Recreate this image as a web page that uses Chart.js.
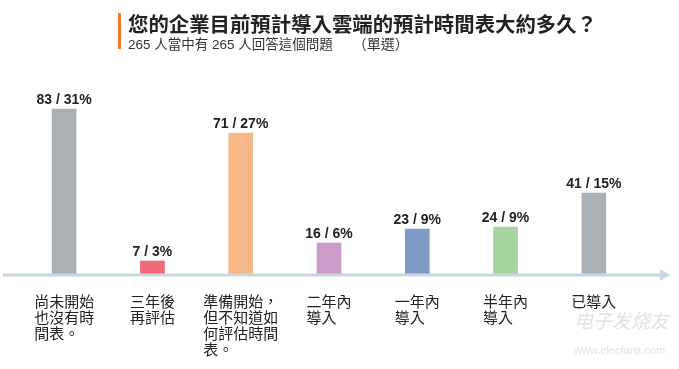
<!DOCTYPE html>
<html>
<head>
<meta charset="utf-8">
<script src="https://cdn.jsdelivr.net/npm/chart.js@4.4.1/dist/chart.umd.min.js"></script>
<style>
    body { margin: 0; background: #fff; }
    #wrap { position: relative; width: 679px; height: 369px; overflow: hidden; }
    #chart { position: absolute; left: 0; top: 0; }
    .accent { position: absolute; left: 118px; top: 13px; width: 3px; height: 36px; background: #f07b2d; }
    .title {
        position: absolute; left: 128px; top: 8px; white-space: nowrap;
        font: bold 20.4px "Liberation Sans", "Noto Sans CJK TC", sans-serif; color: #222;
    }
    .sub {
        position: absolute; left: 128px; top: 33px; white-space: nowrap;
        font: 13.5px "Liberation Sans", "Noto Sans CJK TC", sans-serif; color: #333;
    }
    .sub .single { margin-left: 20px; font-size: 14px; }
    .wm { position: absolute; white-space: nowrap; color: #e2e2e2; font-family: "Noto Sans CJK SC", sans-serif; }
</style>
</head>
<body>
<div id="wrap">
    <canvas id="chart"></canvas>
    <div class="accent"></div>
    <div class="title">您的企業目前預計導入雲端的預計時間表大約多久？</div>
    <div class="sub">265 人當中有 265 人回答這個問題<span class="single">（單選）</span></div>
    <div class="wm" style="left:574px;top:306px;font-size:19px;font-style:italic;">电子发烧友</div>
    <div class="wm" style="left:574px;top:344px;font-size:11px;font-family:'Liberation Sans',sans-serif;">www.elecfans.com</div>
</div>

<script>
// =====
// Data
// =====
// full-width spaces pad the short lines so centred lines look left aligned
const categories = [
    ['尚未開始', '也沒有時', '間表。　'],
    ['三年後', '再評估'],
    ['準備開始，', '但不知道如', '何評估時間', '表。　　　'],
    ['二年內', '導入　'],
    ['一年內', '導入　'],
    ['半年內', '導入　'],
    ['已導入']
];
const counts = [83, 7, 71, 16, 23, 24, 41];
const percents = [31, 3, 27, 6, 9, 9, 15];
const barColors = ['#a9b1b7', '#ef6b79', '#f8b98a', '#cc9bc7', '#7e9bc8', '#a5d49c', '#a9b1b7'];

// ============
// Value labels
// ============
const valueLabels = {
    id: 'valueLabels',
    afterDatasetsDraw(chart) {
        const ctx = chart.ctx;
        const meta = chart.getDatasetMeta(0);
        ctx.save();
        ctx.font = 'bold 14px "Liberation Sans", Arial, sans-serif';
        ctx.fillStyle = '#222';
        ctx.textAlign = 'center';
        ctx.textBaseline = 'alphabetic';
        meta.data.forEach((bar, i) => {
            ctx.fillText(counts[i] + ' / ' + percents[i] + '%', bar.x, bar.y - 5);
        });
        ctx.restore();
    }
};

// ==========
// Arrow axis
// ==========
const arrowAxis = {
    id: 'arrowAxis',
    afterDatasetsDraw(chart) {
        const ctx = chart.ctx;
        const y = chart.scales.y.getPixelForValue(0);
        ctx.save();
        ctx.strokeStyle = '#c9d7df';
        ctx.fillStyle = '#c9d7df';
        ctx.lineWidth = 3;
        ctx.beginPath();
        ctx.moveTo(3, y);
        ctx.lineTo(662, y);
        ctx.stroke();
        ctx.beginPath();
        ctx.moveTo(660, y - 6);
        ctx.lineTo(670, y);
        ctx.lineTo(660, y + 6);
        ctx.closePath();
        ctx.fill();
        ctx.restore();
    }
};

new Chart(document.getElementById('chart'), {
    type: 'bar',
    data: {
        labels: categories,
        datasets: [{
            data: counts,
            backgroundColor: barColors,
            barThickness: 24
        }]
    },
    options: {
        responsive: true,
        maintainAspectRatio: false,
        animation: false,
        layout: { padding: { top: 95, left: 20, right: 41, bottom: 0 } },
        plugins: {
            legend: { display: false },
            tooltip: { enabled: false }
        },
        scales: {
            x: {
                grid: { display: false, drawTicks: false },
                border: { display: false },
                afterFit(scale) { scale.height = 94; },
                ticks: {
                    padding: 18,
                    color: '#222',
                    autoSkip: false,
                    maxRotation: 0,
                    font: { family: '"Noto Sans CJK TC", sans-serif', size: 15, lineHeight: 1.07 }
                }
            },
            y: {
                display: false,
                min: 0,
                max: 90
            }
        }
    },
    plugins: [valueLabels, arrowAxis]
});
</script>
</body>
</html>
